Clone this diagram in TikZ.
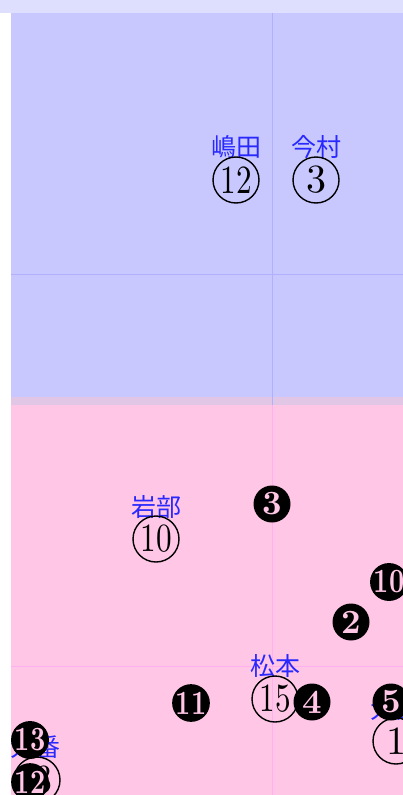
\documentclass[tikz,border=0pt]{standalone}
\usepackage{fontspec}
\newfontfamily\jpfont{Noto Sans CJK JP}
\newfontfamily\numfont{lmroman10-regular}[Extension=.otf]
\newfontfamily\numboldfont{lmroman10-bold}[Extension=.otf]
\definecolor{bgtop}{RGB}{222,222,255}
\definecolor{bgblue}{RGB}{200,200,255}
\definecolor{bgpink}{RGB}{255,198,230}
\definecolor{bgmix}{RGB}{225,198,230}
\definecolor{gridblue}{RGB}{176,176,255}
\definecolor{gridpink}{RGB}{255,176,240}
\definecolor{lbl}{RGB}{40,40,255}
\newcommand\twodig[1]{\scalebox{0.78}[1]{#1}}
\tikzset{
  namelbl/.style={font=\jpfont\fontsize{25}{25}\selectfont, text=lbl, inner sep=0pt},
  seat/.style={circle, draw=black, line width=1.4pt, minimum size=46pt, inner sep=0pt, font=\numfont\fontsize{40}{40}\selectfont},
  darkseat/.style={circle, fill=black, minimum size=37pt, inner sep=0pt, text=bgpink, font=\numboldfont\fontsize{34}{34}\selectfont},
  gridline/.style={line width=0.9pt},
}
\begin{document}
\begin{tikzpicture}[x=1pt,y=-1pt]
\useasboundingbox (0,0) rectangle (403,795);
\clip (0,0) rectangle (403,795);
% backgrounds
\fill[bgtop] (0,0) rectangle (403,13);
\fill[bgblue] (11,13) rectangle (403,397);
\fill[bgmix] (11,397) rectangle (403,405);
\fill[bgpink] (11,405) rectangle (403,795);
% grid lines
\draw[gridline, gridblue] (272,13) -- (272,405);
\draw[gridline, gridblue] (11,274) -- (403,274);
\draw[gridline, gridpink] (272,405) -- (272,795);
\draw[gridline, gridpink] (11,666) -- (403,666);
% name labels
\node[namelbl] (lshimada) at (236,147) {嶋田};
\node[namelbl] (limamura) at (316,147) {今村};
\node[namelbl] (liwabe) at (156,507) {岩部};
\node[namelbl] (lmatsumoto) at (275,666) {松本};
\node[namelbl] (lonishi) at (395,709) {大西};
\node[namelbl] (loban) at (35,747) {大番};
% outline seats
\node[seat] (sshimada) at (236,180) {\twodig{12}};
\node[seat] (simamura) at (316,180) {3};
\node[seat] (siwabe) at (156,539) {\twodig{10}};
\node[seat] (smatsumoto) at (275,699) {\twodig{15}};
\node[seat] (sonishi) at (396,741) {1};
\node[seat] (soban) at (37,780) {\twodig{13}};
% dark seats
\node[darkseat] (d3) at (272,504) {3};
\node[darkseat] (d10) at (389,582) {\twodig{10}};
\node[darkseat] (d2) at (351,622) {2};
\node[darkseat] (d11) at (191,703) {\twodig{11}};
\node[darkseat] (d4) at (312,702) {4};
\node[darkseat] (d5) at (391,702) {5};
\node[darkseat] (d13) at (30,740) {\twodig{13}};
\node[darkseat] (d12) at (30,782) {\twodig{12}};
\end{tikzpicture}
\end{document}
